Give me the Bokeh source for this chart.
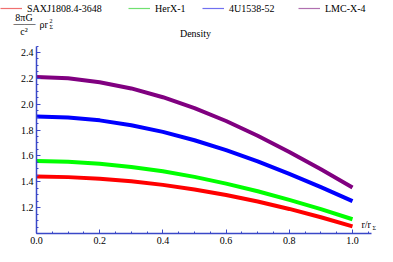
from bokeh.plotting import figure
from bokeh.models import Legend, LegendItem, Label, FixedTicker, Range1d, PrintfTickFormatter
from bokeh.embed import file_html
from bokeh.resources import INLINE

# ---- data ----
r = [0.0, 0.1, 0.2, 0.3, 0.4, 0.5, 0.6, 0.7, 0.8, 0.9, 1.0]
saxj = [1.44, 1.436, 1.424, 1.404, 1.376, 1.341, 1.298, 1.248, 1.19, 1.126, 1.055]
herx = [1.56, 1.555, 1.54, 1.515, 1.481, 1.438, 1.386, 1.327, 1.26, 1.188, 1.11]
u1538 = [1.905, 1.897, 1.875, 1.837, 1.786, 1.721, 1.645, 1.558, 1.461, 1.358, 1.25]
lmc = [2.21, 2.20, 2.17, 2.122, 2.054, 1.97, 1.87, 1.756, 1.631, 1.496, 1.355]
names = ["SAXJ1808.4-3648", "HerX-1", "4U1538-52", "LMC-X-4"]
series = [saxj, herx, u1538, lmc]
colors = ["#ff0000", "#00ff00", "#0000ff", "#800080"]
legend_colors = ["#f07070", "#70e070", "#7070f0", "#b070b0"]
x_ticks = [0.0, 0.2, 0.4, 0.6, 0.8, 1.0]
y_ticks = [1.2, 1.4, 1.6, 1.8, 2.0, 2.2, 2.4]

W, H = 377, 246
X0 = 36          # figure px of r = 0
XS = 316.0       # px per unit r
FB = 233         # figure px of y = 1.0 (frame bottom)
YS = 129.3       # px per unit y
SERIF = "Liberation Serif"
AXIS_COLOR = "#3a48c8"

p = figure(width=W, height=H, output_backend="svg", toolbar_location=None,
           x_range=Range1d(-X0 / XS, (W - X0) / XS),
           y_range=Range1d(1.0, 1.0 + FB / YS),
           min_border_left=0, min_border_right=0, min_border_top=0,
           min_border_bottom=H - FB)
p.outline_line_color = None
p.grid.visible = False
p.background_fill_color = "white"
p.border_fill_color = "white"

for ys, c in zip(series, colors):
    p.line(r, ys, line_color=c, line_width=4, line_join="round")

for ax in (p.xaxis[0], p.yaxis[0]):
    ax.axis_line_color = AXIS_COLOR
    ax.axis_line_width = 1.5
    ax.major_tick_line_color = AXIS_COLOR
    ax.minor_tick_line_color = AXIS_COLOR
    ax.major_tick_in = 4
    ax.major_tick_out = 0
    ax.minor_tick_in = 2
    ax.minor_tick_out = 0
    ax.major_label_text_font = SERIF
    ax.major_label_text_font_size = "10px"
    ax.major_label_text_color = "black"
    ax.major_label_standoff = 3
    ax.formatter = PrintfTickFormatter(format="%.1f")

p.yaxis[0].fixed_location = 0
p.xaxis[0].ticker = FixedTicker(ticks=x_ticks, minor_ticks=[i * 0.05 for i in range(22)])
p.yaxis[0].ticker = FixedTicker(ticks=y_ticks, minor_ticks=[1.0 + i * 0.05 for i in range(30)])
p.xaxis[0].bounds = (0, 1.06)
p.yaxis[0].bounds = (1.0, 2.45)

# ---- legends (one per entry, thin pale samples) ----
leg_x = [0, 128, 202, 298]
for name, lc, lx in zip(names, legend_colors, leg_x):
    dummy = p.line([float("nan")], [float("nan")], line_color=lc, line_width=1.2)
    leg = Legend(items=[LegendItem(label=name, renderers=[dummy])],
                 location=(lx, FB - 14), orientation="horizontal",
                 glyph_width=22, glyph_height=12, label_height=12,
                 label_standoff=5, padding=0, margin=0, spacing=0,
                 border_line_color=None, background_fill_alpha=0,
                 label_text_font=SERIF, label_text_font_size="10px",
                 label_text_color="black")
    p.add_layout(leg)


def txt(text, fx, fy, size="10px", align="center", baseline="middle"):
    p.add_layout(Label(x=fx, y=FB - fy, x_units="screen", y_units="screen",
                       text=text, text_font=SERIF, text_font_size=size,
                       text_align=align, text_baseline=baseline, text_color="black"))


# y-axis label: 8πG / c²  ρ r_Σ²
txt("8\u03c0G", 23.5, 17)
txt("\u2014\u2014", 24, 22.5, size="11px")
txt("c\u00b2", 23.5, 31)
txt("\u03c1r", 39, 24, align="left")
txt("2", 49, 20, size="6px", align="left")
txt("\u03a3", 49, 26, size="6px", align="left")

# title
txt("Density", 195, 33)

# x-axis label r/r_Σ
txt("r/r", 361, 224, align="left")
txt("\u03a3", 372, 227, size="6px", align="left")

open("out.html", "w").write(file_html(p, INLINE))
